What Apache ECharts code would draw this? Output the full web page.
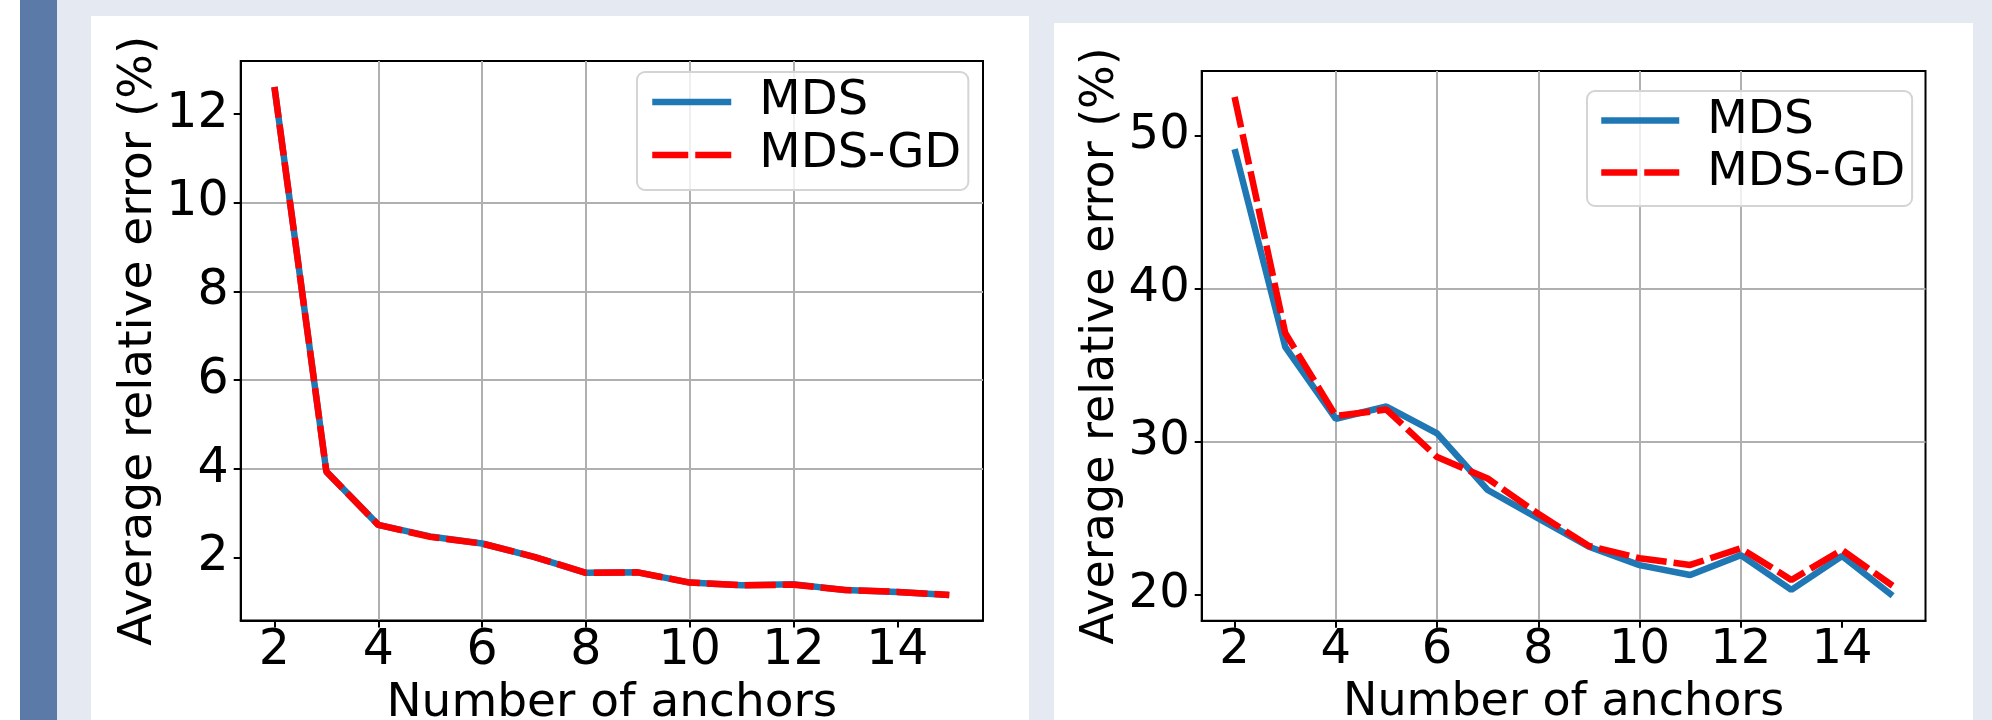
<!DOCTYPE html>
<html>
<head>
<meta charset="utf-8">
<script src="https://cdn.jsdelivr.net/npm/echarts@6/dist/echarts.min.js"></script>
<style>
  html, body { margin: 0; padding: 0; width: 1992px; height: 720px; background: #fff; overflow: hidden; }
  .bg { position: absolute; }
</style>
</head>
<body>
<div class="bg" style="left:20px;top:0;width:37px;height:720px;background:#5b7aa7"></div>
<div class="bg" style="left:57px;top:0;width:1935px;height:720px;background:#e4e9f2"></div>
<div class="bg" style="left:91px;top:16px;width:938px;height:704px;background:#fff"></div>
<div class="bg" style="left:1054px;top:23px;width:919px;height:697px;background:#fff"></div>
<div id="chart" style="position:absolute;left:0;top:0;width:1992px;height:720px"></div>
<script>
// number of anchors
const anchors = [2, 3, 4, 5, 6, 7, 8, 9, 10, 11, 12, 13, 14, 15]
const xTicks = [2, 4, 6, 8, 10, 12, 14]

// left panel: average relative error (%)
const leftMDS = [12.61, 3.94, 2.74, 2.48, 2.32, 2.02, 1.66, 1.67, 1.44, 1.38, 1.40, 1.27, 1.23, 1.16]
const leftMDSGD = [12.61, 3.94, 2.74, 2.47, 2.32, 2.02, 1.66, 1.67, 1.44, 1.38, 1.39, 1.27, 1.23, 1.16]
const leftYTicks = [2, 4, 6, 8, 10, 12]

// right panel: average relative error (%)
const rightMDS = [49.1, 36.2, 31.5, 32.3, 30.55, 26.85, 25.0, 23.15, 21.95, 21.3, 22.6, 20.33, 22.54, 19.95]
const rightMDSGD = [52.5, 37.1, 31.68, 32.1, 29.0, 27.6, 25.3, 23.2, 22.4, 21.96, 23.05, 20.98, 22.94, 20.6]
const rightYTicks = [20, 30, 40, 50]

const FONT = 'DejaVu Sans'
const BLUE = '#1f77b4'
const RED = '#ff0000'

const pairs = (ys) => anchors.map((x, i) => [x, ys[i]])

function xAxisFor(gridIndex, fs, nameFs) {
    return {
        type: 'value', gridIndex: gridIndex, min: 1.35, max: 15.65,
        splitNumber: 7, minInterval: 2, maxInterval: 2,
        name: 'Number of anchors', nameLocation: 'middle', nameGap: 55,
        nameTextStyle: { fontFamily: FONT, fontSize: nameFs, color: '#000' },
        axisLine: { show: true, lineStyle: { color: '#000', width: 2 } },
        axisTick: { show: true, length: 7, lineStyle: { color: '#000', width: 2 }, customValues: xTicks },
        axisLabel: { fontFamily: FONT, fontSize: fs, color: '#000', margin: 6, customValues: xTicks },
        splitLine: { show: true, showMinLine: false, showMaxLine: false, lineStyle: { color: '#b0b0b0', width: 2 } }
    }
}

function yAxisFor(gridIndex, min, max, step, ticks, fs, nameFs) {
    return {
        type: 'value', gridIndex: gridIndex, min: min, max: max,
        splitNumber: 6, minInterval: step, maxInterval: step,
        name: 'Average relative error (%)', nameLocation: 'middle', nameGap: 78,
        nameTextStyle: { fontFamily: FONT, fontSize: nameFs, color: '#000' },
        axisLine: { show: true, lineStyle: { color: '#000', width: 2 } },
        axisTick: { show: true, length: 7, lineStyle: { color: '#000', width: 2 }, customValues: ticks },
        axisLabel: { fontFamily: FONT, fontSize: fs, color: '#000', margin: 12, customValues: ticks },
        splitLine: { show: true, showMinLine: false, showMaxLine: false, lineStyle: { color: '#b0b0b0', width: 2 } }
    }
}

function legendFor(left, top, itemWidth, fs, pad) {
    return {
        left: left, top: top, orient: 'vertical',
        data: ['MDS', { name: 'MDS-GD', lineStyle: { type: [36, 7] } }],
        itemWidth: itemWidth, itemHeight: 14, itemGap: 5,
        itemStyle: { color: 'rgba(0,0,0,0)', borderColor: 'rgba(0,0,0,0)', borderWidth: 0 },
        lineStyle: { width: 6.5 },
        textStyle: { fontFamily: FONT, fontSize: fs, lineHeight: fs, color: '#000', padding: [0, 0, 0, 23] },
        backgroundColor: 'rgba(255,255,255,0.8)',
        borderColor: '#d4d4d4', borderWidth: 2, borderRadius: 8,
        padding: pad
    }
}

function lineSeries(name, data, xi, color, dashed) {
    return {
        name: name, type: 'line', xAxisIndex: xi, yAxisIndex: xi,
        data: data, symbol: 'none', showSymbol: false,
        z: dashed ? 3 : 2,
        color: color,
        lineStyle: { color: color, width: 6.5, type: dashed ? [31, 7] : 'solid', cap: 'butt' }
    }
}

const myChart = echarts.init(document.getElementById('chart'))
myChart.setOption({
    animation: false,
    backgroundColor: 'transparent',
    grid: [
        { left: 240.7, top: 61, width: 742.3, height: 559.5, outerBoundsMode: 'none', containLabel: false, show: true, borderColor: '#000', borderWidth: 2, backgroundColor: 'transparent' },
        { left: 1201.7, top: 71, width: 723.8, height: 549.7, outerBoundsMode: 'none', containLabel: false, show: true, borderColor: '#000', borderWidth: 2, backgroundColor: 'transparent' }
    ],
    xAxis: [xAxisFor(0, 49, 47), xAxisFor(1, 48, 46)],
    yAxis: [
        yAxisFor(0, 0.585, 13.195, 2, leftYTicks, 49, 47),
        yAxisFor(1, 18.32, 54.2, 10, rightYTicks, 48, 46)
    ],
    legend: [
        legendFor(637, 72, 79, 48, [6, 7, 11, 12]),
        legendFor(1587, 91, 78, 47, [6, 7, 10, 11])
    ],
    series: [
        lineSeries('MDS', pairs(leftMDS), 0, BLUE, false),
        lineSeries('MDS-GD', pairs(leftMDSGD), 0, RED, true),
        lineSeries('MDS', pairs(rightMDS), 1, BLUE, false),
        lineSeries('MDS-GD', pairs(rightMDSGD), 1, RED, true)
    ]
})
</script>
</body>
</html>
